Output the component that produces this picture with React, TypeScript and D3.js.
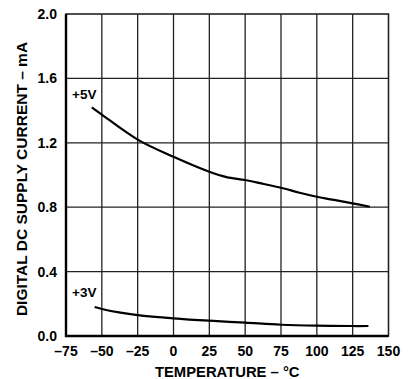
import * as d3 from "d3";
import React, { useRef, useEffect } from "react";

const width = 416;
const height = 379;

// +5V supply curve (temperature in °C, current in mA)
const temps5 = [-57, -50, -25, 0, 25, 37, 50, 63, 75, 88, 100, 112, 125, 137];
const current5 = [1.42, 1.375, 1.22, 1.113, 1.02, 0.987, 0.969, 0.944, 0.921, 0.89, 0.865, 0.845, 0.824, 0.803];

// +3V supply curve
const temps3 = [-55, -50, -37, -25, 0, 25, 50, 75, 100, 125, 136];
const current3 = [0.18, 0.168, 0.145, 0.13, 0.11, 0.095, 0.083, 0.07, 0.064, 0.062, 0.062];

const xTicks = [-75, -50, -25, 0, 25, 50, 75, 100, 125, 150];
const yTicks = [0, 0.4, 0.8, 1.2, 1.6, 2.0];

const seriesLabels = ["+5V", "+3V"];
const labelTemps = [-75, -75];
const labelValues = [1.475, 0.242];

const font = "'Liberation Sans', Arial, Helvetica, sans-serif";

function App() {
  const ref = useRef<SVGSVGElement>(null);
  const margin = { top: 14, right: 27.5, bottom: 43, left: 66 };

  useEffect(() => {
    draw();
  }, []);

  const draw = () => {
    const svg = d3.select(ref.current);
    svg.selectAll("*").remove();
    const innerWidth = width - margin.left - margin.right;
    const innerHeight = height - margin.top - margin.bottom;

    const x = d3.scaleLinear().domain([-75, 150]).range([0, innerWidth]);
    const y = d3.scaleLinear().domain([0, 2]).range([innerHeight, 0]);

    const g = svg.append("g").attr("transform", `translate(${margin.left},${margin.top})`);

    // grid
    g.selectAll(".vgrid")
      .data(xTicks.slice(1, -1))
      .join("line")
      .attr("x1", (d) => x(d))
      .attr("x2", (d) => x(d))
      .attr("y1", 0)
      .attr("y2", innerHeight)
      .attr("stroke", "#222")
      .attr("stroke-width", 1.3);

    g.selectAll(".hgrid")
      .data(yTicks.slice(1, -1))
      .join("line")
      .attr("x1", 0)
      .attr("x2", innerWidth)
      .attr("y1", (d) => y(d))
      .attr("y2", (d) => y(d))
      .attr("stroke", "#222")
      .attr("stroke-width", 1.3);

    // frame
    g.append("rect")
      .attr("x", 0)
      .attr("y", 0)
      .attr("width", innerWidth)
      .attr("height", innerHeight)
      .attr("fill", "none")
      .attr("stroke", "#222")
      .attr("stroke-width", 1.6);
    g.append("path")
      .attr("d", `M0,0V${innerHeight}H${innerWidth}`)
      .attr("fill", "none")
      .attr("stroke", "#000")
      .attr("stroke-width", 2.4);

    // curves
    const line = d3
      .line<[number, number]>()
      .x((d) => x(d[0]))
      .y((d) => y(d[1]))
      .curve(d3.curveCatmullRom.alpha(0.5));

    const series = [
      temps5.map((t, i) => [t, current5[i]] as [number, number]),
      temps3.map((t, i) => [t, current3[i]] as [number, number]),
    ];

    g.selectAll(".curve")
      .data(series)
      .join("path")
      .attr("d", (d) => line(d))
      .attr("fill", "none")
      .attr("stroke", "#000")
      .attr("stroke-width", 2.2);

    g.selectAll(".series-label")
      .data(seriesLabels)
      .join("text")
      .attr("x", (d, i) => x(labelTemps[i]) + 6)
      .attr("y", (d, i) => y(labelValues[i]))
      .attr("font-family", font)
      .attr("font-weight", "bold")
      .attr("font-size", 13.5)
      .attr("fill", "#000")
      .text((d) => d);

    // tick labels
    g.selectAll(".xtick")
      .data(xTicks)
      .join("text")
      .attr("x", (d) => x(d))
      .attr("y", innerHeight + 20)
      .attr("text-anchor", "middle")
      .attr("font-family", font)
      .attr("font-weight", "bold")
      .attr("font-size", 14)
      .attr("fill", "#000")
      .text((d) => (d < 0 ? "–" + Math.abs(d) : String(d)));

    g.selectAll(".ytick")
      .data(yTicks)
      .join("text")
      .attr("x", -9)
      .attr("y", (d) => y(d))
      .attr("dy", "0.35em")
      .attr("text-anchor", "end")
      .attr("font-family", font)
      .attr("font-weight", "bold")
      .attr("font-size", 14)
      .attr("fill", "#000")
      .text((d) => d3.format(".1f")(d));

    // axis titles
    g.append("text")
      .attr("x", innerWidth / 2)
      .attr("y", innerHeight + 41)
      .attr("text-anchor", "middle")
      .attr("font-family", font)
      .attr("font-weight", "bold")
      .attr("font-size", 14.8)
      .attr("fill", "#000")
      .text("TEMPERATURE – °C");

    g.append("text")
      .attr("transform", `translate(${27 - margin.left},${innerHeight / 2 + 4}) rotate(-90)`)
      .attr("text-anchor", "middle")
      .attr("font-family", font)
      .attr("font-weight", "bold")
      .attr("font-size", 15.5)
      .attr("fill", "#000")
      .text("DIGITAL DC SUPPLY CURRENT – mA");
  };

  return (
    <svg
      ref={ref}
      width={width}
      height={height}
      style={{ position: "absolute", left: 0, top: 0, background: "#fff" }}
    ></svg>
  );
}

export default App;
